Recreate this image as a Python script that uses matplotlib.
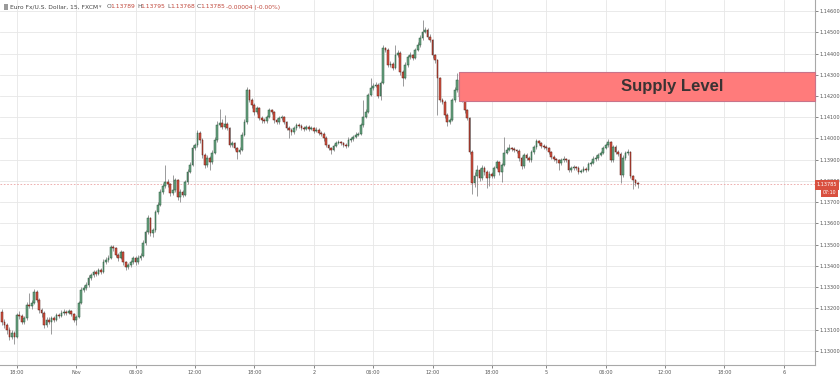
import matplotlib
matplotlib.use('Agg')
import matplotlib.pyplot as plt
from matplotlib.patches import Rectangle
import numpy as np

# ---------------- data (EUR/USD, 15 min, FXCM) ----------------
opens = [1.13183, 1.13135, 1.13121, 1.13098, 1.13065, 1.13084, 1.13065, 1.13168, 1.13164, 1.13135,
         1.13154, 1.13215, 1.13211, 1.13225, 1.13277, 1.13239, 1.13192, 1.13178, 1.13121, 1.13145,
         1.13135, 1.13154, 1.13145, 1.13168, 1.13164, 1.13178, 1.13183, 1.13178, 1.13187, 1.13173,
         1.13145, 1.13159, 1.13225, 1.13286, 1.13296, 1.13310, 1.13343, 1.13357, 1.13371, 1.13362,
         1.13380, 1.13371, 1.13418, 1.13427, 1.13437, 1.13489, 1.13484, 1.13451, 1.13437, 1.13465,
         1.13418, 1.13394, 1.13404, 1.13418, 1.13437, 1.13418, 1.13437, 1.13446, 1.13508, 1.13559,
         1.13625, 1.13555, 1.13569, 1.13654, 1.13686, 1.13748, 1.13776, 1.13795, 1.13785, 1.13743,
         1.13757, 1.13804, 1.13724, 1.13748, 1.13734, 1.13795, 1.13842, 1.13875, 1.13955, 1.13969,
         1.14026, 1.13993, 1.13922, 1.13875, 1.13908, 1.13889, 1.13931, 1.13993, 1.14063, 1.14073,
         1.14054, 1.14068, 1.14049, 1.13969, 1.13979, 1.13955, 1.13936, 1.13946, 1.14016, 1.14077,
         1.14228, 1.14181, 1.14157, 1.14125, 1.14143, 1.14096, 1.14087, 1.14082, 1.14101, 1.14134,
         1.14125, 1.14087, 1.14077, 1.14096, 1.14101, 1.14077, 1.14049, 1.14040, 1.14030, 1.14049,
         1.14063, 1.14059, 1.14049, 1.14044, 1.14054, 1.14044, 1.14049, 1.14035, 1.14040, 1.14026,
         1.14021, 1.14002, 1.13969, 1.13955, 1.13946, 1.13964, 1.13979, 1.13983, 1.13979, 1.13969,
         1.13964, 1.13993, 1.13997, 1.14007, 1.14016, 1.14021, 1.14063, 1.14101, 1.14125, 1.14205,
         1.14238, 1.14247, 1.14252, 1.14200, 1.14261, 1.14426, 1.14417, 1.14346, 1.14351, 1.14332,
         1.14393, 1.14402, 1.14313, 1.14285, 1.14346, 1.14384, 1.14393, 1.14379, 1.14417, 1.14440,
         1.14473, 1.14501, 1.14511, 1.14478, 1.14464, 1.14393, 1.14369, 1.14285, 1.14181, 1.14172,
         1.14110, 1.14077, 1.14087, 1.14181, 1.14228, 1.14275, 1.14195, 1.14181, 1.14134, 1.14096,
         1.13936, 1.13790, 1.13823, 1.13851, 1.13814, 1.13861, 1.13842, 1.13814, 1.13832, 1.13823,
         1.13861, 1.13889, 1.13842, 1.13875, 1.13931, 1.13946, 1.13955, 1.13950, 1.13946, 1.13941,
         1.13908, 1.13870, 1.13922, 1.13908, 1.13898, 1.13936, 1.13960, 1.13988, 1.13979, 1.13964,
         1.13960, 1.13955, 1.13936, 1.13913, 1.13903, 1.13898, 1.13884, 1.13898, 1.13903, 1.13898,
         1.13851, 1.13861, 1.13865, 1.13861, 1.13842, 1.13847, 1.13856, 1.13851, 1.13880, 1.13884,
         1.13903, 1.13908, 1.13922, 1.13931, 1.13955, 1.13969, 1.13983, 1.13898, 1.13960, 1.13936,
         1.13927, 1.13828, 1.13908, 1.13931, 1.13936, 1.13823, 1.13804, 1.13789]

highs = [1.13195, 1.13148, 1.13130, 1.13110, 1.13100, 1.13092, 1.13180, 1.13185, 1.13172, 1.13165,
         1.13230, 1.13270, 1.13240, 1.13290, 1.13285, 1.13248, 1.13200, 1.13185, 1.13160, 1.13158,
         1.13165, 1.13162, 1.13180, 1.13178, 1.13190, 1.13195, 1.13192, 1.13198, 1.13192, 1.13180,
         1.13168, 1.13235, 1.13298, 1.13310, 1.13325, 1.13355, 1.13368, 1.13382, 1.13380, 1.13392,
         1.13388, 1.13430, 1.13440, 1.13450, 1.13500, 1.13498, 1.13490, 1.13460, 1.13475, 1.13472,
         1.13425, 1.13415, 1.13428, 1.13448, 1.13445, 1.13450, 1.13460, 1.13520, 1.13570, 1.13640,
         1.13632, 1.13580, 1.13665, 1.13700, 1.13760, 1.13790, 1.13875, 1.13810, 1.13792, 1.13830,
         1.13815, 1.13810, 1.13760, 1.13755, 1.13805, 1.13855, 1.13888, 1.13968, 1.13980, 1.14040,
         1.14035, 1.14000, 1.13930, 1.13920, 1.13915, 1.13945, 1.14005, 1.14080, 1.14140, 1.14090,
         1.14110, 1.14078, 1.14055, 1.13990, 1.13985, 1.13962, 1.13958, 1.14028, 1.14090, 1.14240,
         1.14235, 1.14190, 1.14165, 1.14155, 1.14150, 1.14105, 1.14095, 1.14112, 1.14145, 1.14140,
         1.14130, 1.14095, 1.14105, 1.14112, 1.14108, 1.14082, 1.14058, 1.14048, 1.14060, 1.14075,
         1.14072, 1.14068, 1.14058, 1.14065, 1.14062, 1.14060, 1.14055, 1.14052, 1.14048, 1.14035,
         1.14030, 1.14010, 1.13975, 1.13962, 1.13975, 1.13990, 1.13995, 1.13990, 1.13985, 1.13978,
         1.14005, 1.14008, 1.14018, 1.14028, 1.14032, 1.14075, 1.14180, 1.14140, 1.14215, 1.14285,
         1.14260, 1.14265, 1.14260, 1.14272, 1.14440, 1.14432, 1.14425, 1.14365, 1.14360, 1.14438,
         1.14415, 1.14410, 1.14320, 1.14358, 1.14395, 1.14405, 1.14400, 1.14428, 1.14452, 1.14485,
         1.14558, 1.14525, 1.14518, 1.14490, 1.14470, 1.14400, 1.14375, 1.14290, 1.14190, 1.14180,
         1.14118, 1.14098, 1.14192, 1.14240, 1.14310, 1.14282, 1.14205, 1.14190, 1.14140, 1.14100,
         1.13945, 1.13840, 1.13875, 1.13860, 1.13875, 1.13870, 1.13850, 1.13845, 1.13840, 1.13872,
         1.13900, 1.13895, 1.13885, 1.14007, 1.13958, 1.13975, 1.13962, 1.13958, 1.13952, 1.13948,
         1.13915, 1.13932, 1.13930, 1.13915, 1.13945, 1.13970, 1.13998, 1.13995, 1.13985, 1.13972,
         1.13968, 1.13962, 1.13942, 1.13920, 1.13910, 1.13905, 1.13910, 1.13915, 1.13910, 1.13905,
         1.13872, 1.13875, 1.13872, 1.13868, 1.13858, 1.13868, 1.13865, 1.13890, 1.13895, 1.13915,
         1.13920, 1.13932, 1.13942, 1.13965, 1.13980, 1.13998, 1.13990, 1.13970, 1.13968, 1.13945,
         1.13935, 1.13920, 1.13942, 1.13948, 1.13942, 1.13830, 1.13810, 1.13795]

lows = [1.13120, 1.13105, 1.13080, 1.13050, 1.13055, 1.13030, 1.13060, 1.13150, 1.13125, 1.13128,
        1.13145, 1.13200, 1.13195, 1.13218, 1.13230, 1.13180, 1.13160, 1.13105, 1.13110, 1.13125,
        1.13080, 1.13135, 1.13140, 1.13155, 1.13158, 1.13170, 1.13168, 1.13172, 1.13165, 1.13135,
        1.13120, 1.13152, 1.13218, 1.13275, 1.13285, 1.13300, 1.13335, 1.13348, 1.13350, 1.13355,
        1.13360, 1.13365, 1.13410, 1.13420, 1.13430, 1.13472, 1.13440, 1.13425, 1.13430, 1.13405,
        1.13380, 1.13385, 1.13395, 1.13410, 1.13405, 1.13410, 1.13428, 1.13440, 1.13500, 1.13550,
        1.13540, 1.13535, 1.13560, 1.13645, 1.13680, 1.13740, 1.13768, 1.13770, 1.13730, 1.13735,
        1.13750, 1.13712, 1.13700, 1.13722, 1.13728, 1.13785, 1.13835, 1.13868, 1.13945, 1.13960,
        1.13980, 1.13910, 1.13860, 1.13865, 1.13852, 1.13880, 1.13925, 1.13985, 1.14055, 1.14045,
        1.14045, 1.14040, 1.13958, 1.13960, 1.13945, 1.13905, 1.13928, 1.13940, 1.14010, 1.14070,
        1.14170, 1.14145, 1.14110, 1.14115, 1.14085, 1.14075, 1.14072, 1.14075, 1.14095, 1.14115,
        1.14075, 1.14068, 1.14070, 1.14088, 1.14068, 1.14040, 1.14000, 1.14018, 1.14022, 1.14040,
        1.14050, 1.14040, 1.14035, 1.14038, 1.14035, 1.14038, 1.14025, 1.14028, 1.14015, 1.14010,
        1.13990, 1.13958, 1.13945, 1.13925, 1.13940, 1.13958, 1.13972, 1.13970, 1.13958, 1.13955,
        1.13958, 1.13985, 1.13990, 1.14000, 1.14010, 1.14015, 1.14055, 1.14095, 1.14118, 1.14198,
        1.14230, 1.14240, 1.14190, 1.14180, 1.14255, 1.14405, 1.14335, 1.14335, 1.14320, 1.14325,
        1.14385, 1.14300, 1.14245, 1.14278, 1.14338, 1.14375, 1.14370, 1.14372, 1.14410, 1.14432,
        1.14465, 1.14495, 1.14468, 1.14455, 1.14380, 1.14355, 1.14110, 1.14170, 1.14160, 1.14095,
        1.14060, 1.14070, 1.14080, 1.14172, 1.14220, 1.14185, 1.14172, 1.14120, 1.14085, 1.13925,
        1.13740, 1.13770, 1.13730, 1.13800, 1.13805, 1.13830, 1.13765, 1.13775, 1.13812, 1.13815,
        1.13855, 1.13830, 1.13795, 1.13868, 1.13925, 1.13940, 1.13940, 1.13935, 1.13930, 1.13895,
        1.13855, 1.13862, 1.13898, 1.13888, 1.13890, 1.13928, 1.13952, 1.13970, 1.13955, 1.13950,
        1.13945, 1.13925, 1.13902, 1.13892, 1.13885, 1.13850, 1.13875, 1.13890, 1.13888, 1.13840,
        1.13842, 1.13852, 1.13850, 1.13832, 1.13835, 1.13840, 1.13842, 1.13845, 1.13872, 1.13878,
        1.13895, 1.13900, 1.13915, 1.13925, 1.13948, 1.13962, 1.13888, 1.13890, 1.13925, 1.13915,
        1.13790, 1.13820, 1.13900, 1.13922, 1.13812, 1.13760, 1.13775, 1.13768]

closes = [1.13135, 1.13121, 1.13098, 1.13065, 1.13084, 1.13065, 1.13168, 1.13164, 1.13135, 1.13154,
          1.13215, 1.13211, 1.13225, 1.13277, 1.13239, 1.13192, 1.13178, 1.13121, 1.13145, 1.13135,
          1.13154, 1.13145, 1.13168, 1.13164, 1.13178, 1.13183, 1.13178, 1.13187, 1.13173, 1.13145,
          1.13159, 1.13225, 1.13286, 1.13296, 1.13310, 1.13343, 1.13357, 1.13371, 1.13362, 1.13380,
          1.13371, 1.13418, 1.13427, 1.13437, 1.13489, 1.13484, 1.13451, 1.13437, 1.13465, 1.13418,
          1.13394, 1.13404, 1.13418, 1.13437, 1.13418, 1.13437, 1.13446, 1.13508, 1.13559, 1.13625,
          1.13555, 1.13569, 1.13654, 1.13686, 1.13748, 1.13776, 1.13795, 1.13785, 1.13743, 1.13757,
          1.13804, 1.13724, 1.13748, 1.13734, 1.13795, 1.13842, 1.13875, 1.13955, 1.13969, 1.14026,
          1.13993, 1.13922, 1.13875, 1.13908, 1.13889, 1.13931, 1.13993, 1.14063, 1.14073, 1.14054,
          1.14068, 1.14049, 1.13969, 1.13979, 1.13955, 1.13936, 1.13946, 1.14016, 1.14077, 1.14228,
          1.14181, 1.14157, 1.14125, 1.14143, 1.14096, 1.14087, 1.14082, 1.14101, 1.14134, 1.14125,
          1.14087, 1.14077, 1.14096, 1.14101, 1.14077, 1.14049, 1.14040, 1.14030, 1.14049, 1.14063,
          1.14059, 1.14049, 1.14044, 1.14054, 1.14044, 1.14049, 1.14035, 1.14040, 1.14026, 1.14021,
          1.14002, 1.13969, 1.13955, 1.13946, 1.13964, 1.13979, 1.13983, 1.13979, 1.13969, 1.13964,
          1.13993, 1.13997, 1.14007, 1.14016, 1.14021, 1.14063, 1.14101, 1.14125, 1.14205, 1.14238,
          1.14247, 1.14252, 1.14200, 1.14261, 1.14426, 1.14417, 1.14346, 1.14351, 1.14332, 1.14393,
          1.14402, 1.14313, 1.14285, 1.14346, 1.14384, 1.14393, 1.14379, 1.14417, 1.14440, 1.14473,
          1.14501, 1.14511, 1.14478, 1.14464, 1.14393, 1.14369, 1.14285, 1.14181, 1.14172, 1.14110,
          1.14077, 1.14087, 1.14181, 1.14228, 1.14275, 1.14195, 1.14181, 1.14134, 1.14096, 1.13936,
          1.13790, 1.13823, 1.13851, 1.13814, 1.13861, 1.13842, 1.13814, 1.13832, 1.13823, 1.13861,
          1.13889, 1.13842, 1.13875, 1.13931, 1.13946, 1.13955, 1.13950, 1.13946, 1.13941, 1.13908,
          1.13870, 1.13922, 1.13908, 1.13898, 1.13936, 1.13960, 1.13988, 1.13979, 1.13964, 1.13960,
          1.13955, 1.13936, 1.13913, 1.13903, 1.13898, 1.13884, 1.13898, 1.13903, 1.13898, 1.13851,
          1.13861, 1.13865, 1.13861, 1.13842, 1.13847, 1.13856, 1.13851, 1.13880, 1.13884, 1.13903,
          1.13908, 1.13922, 1.13931, 1.13955, 1.13969, 1.13983, 1.13898, 1.13960, 1.13936, 1.13927,
          1.13828, 1.13908, 1.13931, 1.13936, 1.13823, 1.13804, 1.13789, 1.13785]

x_tick_pos = [6, 30, 54, 78, 102, 126, 150, 174, 198, 220, 244, 268, 292, 316]
x_tick_labels = ['18:00', 'Nov', '06:00', '12:00', '18:00', '2', '06:00', '12:00',
                 '18:00', '5', '06:00', '12:00', '18:00', '6']
price_ticks = [1.130, 1.131, 1.132, 1.133, 1.134, 1.135, 1.136, 1.137, 1.138,
               1.139, 1.140, 1.141, 1.142, 1.143, 1.144, 1.145, 1.146]

supply_low, supply_high = 1.14176, 1.14313
supply_start = 184.7
supply_label = 'Supply Level'
last_price = 1.13785
countdown = '07:10'

# ---------------- figure ----------------
W, H = 840, 379
fig = plt.figure(figsize=(W / 100, H / 100), dpi=100)
fig.patch.set_facecolor('white')
ax = fig.add_axes([0, 14 / H, 815 / W, 365 / H])
ax.set_facecolor('white')

xmin, xmax = -0.81, 328.6
ax.set_xlim(xmin, xmax)
ax.set_ylim(1.12933, 1.14652)

o = np.array(opens)
h = np.array(highs)
l = np.array(lows)
c = np.array(closes)
x = np.arange(len(c))
up = c >= o

body_up, edge_up = '#6ba583', '#225437'
body_dn, edge_dn = '#d75442', '#5b1a13'
wick_col = '#737375'

ax.vlines(x, l, h, color=wick_col, lw=0.5, zorder=2)
bottoms = np.minimum(o, c)
heights = np.maximum(np.abs(c - o), 0.00002)
ax.bar(x, heights, bottom=bottoms, width=0.7,
       color=np.where(up, body_up, body_dn),
       edgecolor=np.where(up, edge_up, edge_dn),
       linewidth=0.35, zorder=3)

# grid & axes
ax.set_yticks(price_ticks)
ax.set_yticklabels([f'{p:.5f}' for p in price_ticks])
ax.set_xticks(x_tick_pos)
ax.set_xticklabels(x_tick_labels)
ax.grid(True, color='#e7e7e7', lw=0.6, zorder=0)
ax.set_axisbelow(True)
ax.yaxis.tick_right()
ax.tick_params(axis='y', labelsize=3.6, length=2, width=0.5, pad=1.2,
               colors='#555555')
ax.tick_params(axis='x', labelsize=3.6, length=2, width=0.5, pad=1.5,
               colors='#555555')
for s in ['top', 'left']:
    ax.spines[s].set_visible(False)
for s in ['right', 'bottom']:
    ax.spines[s].set_color('#a8a8a8')
    ax.spines[s].set_linewidth(0.8)

# current price dotted line
ax.axhline(last_price, color='#eba3a3', lw=0.6, ls=(0, (2, 2)), zorder=1)

# supply zone
ax.add_patch(Rectangle((supply_start, supply_low), xmax - supply_start,
                       supply_high - supply_low, facecolor='#ff7b7b',
                       edgecolor='#c8738a', lw=0.8, zorder=4, clip_on=False))
ax.text(270.8, (supply_low + supply_high) / 2, supply_label,
        family='Liberation Sans', fontweight='bold', fontsize=12,
        color='#3a3333', ha='center', va='center', zorder=5)

# header
ty = 1 - 7 / H
fig.patches.append(Rectangle((4 / W, (H - 10) / H), 4 / W, 6 / H,
                             transform=fig.transFigure, facecolor='#9a9a9a',
                             edgecolor='none'))
fig.text(10 / W, ty, 'Euro Fx/U.S. Dollar, 15, FXCM', fontsize=4.3,
         color='#444444', va='center', ha='left')
fig.text(99 / W, ty, '▾', fontsize=3.5, color='#888888', va='center')
hdr = [('O', '1.13789', 107), ('H', '1.13795', 137), ('L', '1.13768', 167),
       ('C', '1.13785', 197)]
for lab, val, px in hdr:
    fig.text(px / W, ty, lab, fontsize=4.3, color='#555555', va='center')
    fig.text((px + 3.5) / W, ty, val, fontsize=4.3, color='#c0463a', va='center')
fig.text(226 / W, ty, '-0.00004 (-0.00%)', fontsize=4.3, color='#c0463a',
         va='center')

# price label on right axis
fig.patches.append(Rectangle((815 / W, (H - 190) / H), 24 / W, 10 / H,
                             transform=fig.transFigure, facecolor='#d9503f',
                             edgecolor='none', zorder=5))
fig.text(827 / W, (H - 185) / H, f'{last_price:.5f}', fontsize=3.6,
         color='white', ha='center', va='center', zorder=6)
fig.patches.append(Rectangle((821 / W, (H - 196.5) / H), 17 / W, 7 / H,
                             transform=fig.transFigure, facecolor='#d9503f',
                             edgecolor='none', zorder=5))
fig.text(829.5 / W, (H - 193) / H, countdown, fontsize=3.4, color='white',
         ha='center', va='center', zorder=6)

fig.savefig('out.png', dpi=100, facecolor='white')
